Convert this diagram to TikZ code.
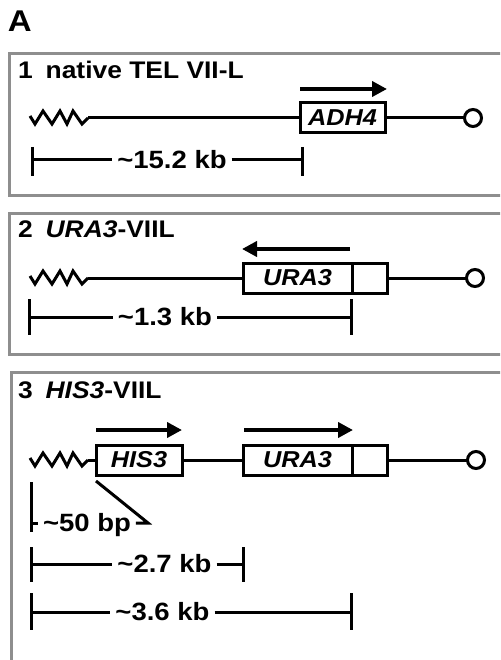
\documentclass[tikz,border=0pt]{standalone}
\usepackage{fontspec}
\setmainfont{Liberation Sans}[FakeStretch=1.1]
\usetikzlibrary{arrows.meta,positioning}
\definecolor{framegray}{HTML}{8E8E8E}
% zigzag (subtelomeric repeat) drawn back to its end coordinate
\newcommand{\telzig}[1]{\draw[chrom] (#1) ++(-58,-2) -- ++(5,8) -- ++(8,-13)
  -- ++(9,13) -- ++(8,-13) -- ++(7,13) -- ++(6,-13) -- ++(9,13) -- (#1);}

\begin{document}
\begin{tikzpicture}[x=1pt, y=-1pt,
  every node/.style={font=\bfseries\fontsize{24}{27}\selectfont,
                     inner sep=0pt, outer sep=0pt},
  frame/.style={draw=framegray, line width=3pt},
  chrom/.style={line width=3pt, line join=miter},
  gene/.style={draw, line width=3pt, minimum height=30pt, fill=white,
               font=\bfseries\itshape\fontsize{23}{26}\selectfont},
  telo/.style={circle, draw, line width=3pt, minimum size=17pt, fill=white},
  dir/.style={-{Triangle[length=15pt,width=15pt]}, line width=4.5pt},
  bar/.style={line width=3pt},
  size/.style={font=\bfseries\fontsize{25}{28}\selectfont,
               text height=17pt, text depth=0pt, inner xsep=5pt},
  title/.style={anchor=base west}
]
\clip (0,0) rectangle (500,660);
\node[anchor=base west, font=\bfseries\fontsize{30}{33}\selectfont] (lbl) at (8,32) {A};

% 1 native TEL VII-L
\draw[frame] (9,54) rectangle (520,196);
\node[title] (t1) at (18,79) {1\hspace{13pt}native TEL VII-L};
\coordinate (z1) at (88,118);
\telzig{z1}
\node[gene, minimum width=85pt] (adh4) at (342.5,118) {ADH4};
\node[telo] (tel1) at (473,118) {};
\draw[chrom] (z1) -- (adh4) (adh4) -- (tel1);
\draw[dir] ([yshift=14pt]adh4.north west) -- ([yshift=14pt,xshift=2pt]adh4.north east);
\coordinate (s1a) at (32,160);
\coordinate (s1b) at (302,160);
\node[size] (kb1) at (172,160) {\textasciitilde15.2 kb};
\draw[bar] (s1a) -- (kb1) (kb1) -- (s1b);
\draw[bar] ([yshift=13pt]s1a) -- ([yshift=-16pt]s1a);
\draw[bar] ([yshift=13pt]s1b) -- ([yshift=-16pt]s1b);

% 2 URA3-VIIL
\draw[frame] (9,213) rectangle (520,354);
\node[title] (t2) at (18,237) {2\hspace{13pt}\textit{URA3}-VIIL};
\coordinate (z2) at (88,278);
\telzig{z2}
\node[gene, minimum width=109pt] (ura2) at (297.5,278) {URA3};
\node[gene, minimum width=35pt, right=0pt of ura2] (tail2) {};
\node[telo] (tel2) at (475,278) {};
\draw[chrom] (z2) -- (ura2) (tail2) -- (tel2);
\draw[dir] ([yshift=14pt,xshift=-2pt]ura2.north east) -- ([yshift=14pt,xshift=-1pt]ura2.north west);
\coordinate (s2a) at (29,317);
\coordinate (s2b) at (351,317);
\node[size] (kb2) at (165,317) {\textasciitilde1.3 kb};
\draw[bar] (s2a) -- (kb2) (kb2) -- (s2b);
\draw[bar] ([yshift=18pt]s2a) -- ([yshift=-18pt]s2a);
\draw[bar] ([yshift=18pt]s2b) -- ([yshift=-18pt]s2b);

% 3 HIS3-VIIL
\draw[frame] (11,372) rectangle (520,700);
\node[title] (t3) at (18,398) {3\hspace{13pt}\textit{HIS3}-VIIL};
\coordinate (z3) at (88,460);
\telzig{z3}
\node[gene, minimum width=86pt] (his3) at (139,460) {HIS3};
\node[gene, minimum width=109pt] (ura3) at (297.5,460) {URA3};
\node[gene, minimum width=35pt, right=0pt of ura3] (tail3) {};
\node[telo] (tel3) at (476,460) {};
\draw[chrom] (z3) -- (his3) (his3) -- (ura3) (tail3) -- (tel3);
\draw[dir] ([yshift=15pt]his3.north west) -- ([yshift=15pt]his3.north east);
\draw[dir] ([yshift=15pt,xshift=1pt]ura3.north west) -- ([yshift=15pt,xshift=1pt]ura3.north east);
% ~50 bp
\coordinate (s3a) at (31,523);
\coordinate (c50) at (148,523);
\node[size, anchor=west] (bp50) at (38,523) {\textasciitilde50 bp};
\draw[bar] (s3a) -- (bp50);
\draw[bar] (bp50.east) -- (c50) -- ([yshift=-6pt]his3.south west);
\draw[bar] (31,482) -- (31,532);
% ~2.7 kb
\coordinate (s4a) at (31,564);
\coordinate (s4b) at (243,564);
\node[size] (kb4) at (164.5,564) {\textasciitilde2.7 kb};
\draw[bar] (s4a) -- (kb4) (kb4) -- (s4b);
\draw[bar] ([yshift=17pt]s4a) -- ([yshift=-18pt]s4a);
\draw[bar] ([yshift=17pt]s4b) -- ([yshift=-18pt]s4b);
% ~3.6 kb
\coordinate (s5a) at (31,612);
\coordinate (s5b) at (351,612);
\node[size] (kb5) at (162.5,612) {\textasciitilde3.6 kb};
\draw[bar] (s5a) -- (kb5) (kb5) -- (s5b);
\draw[bar] ([yshift=19pt]s5a) -- ([yshift=-18pt]s5a);
\draw[bar] ([yshift=19pt]s5b) -- ([yshift=-18pt]s5b);
\end{tikzpicture}
\end{document}
